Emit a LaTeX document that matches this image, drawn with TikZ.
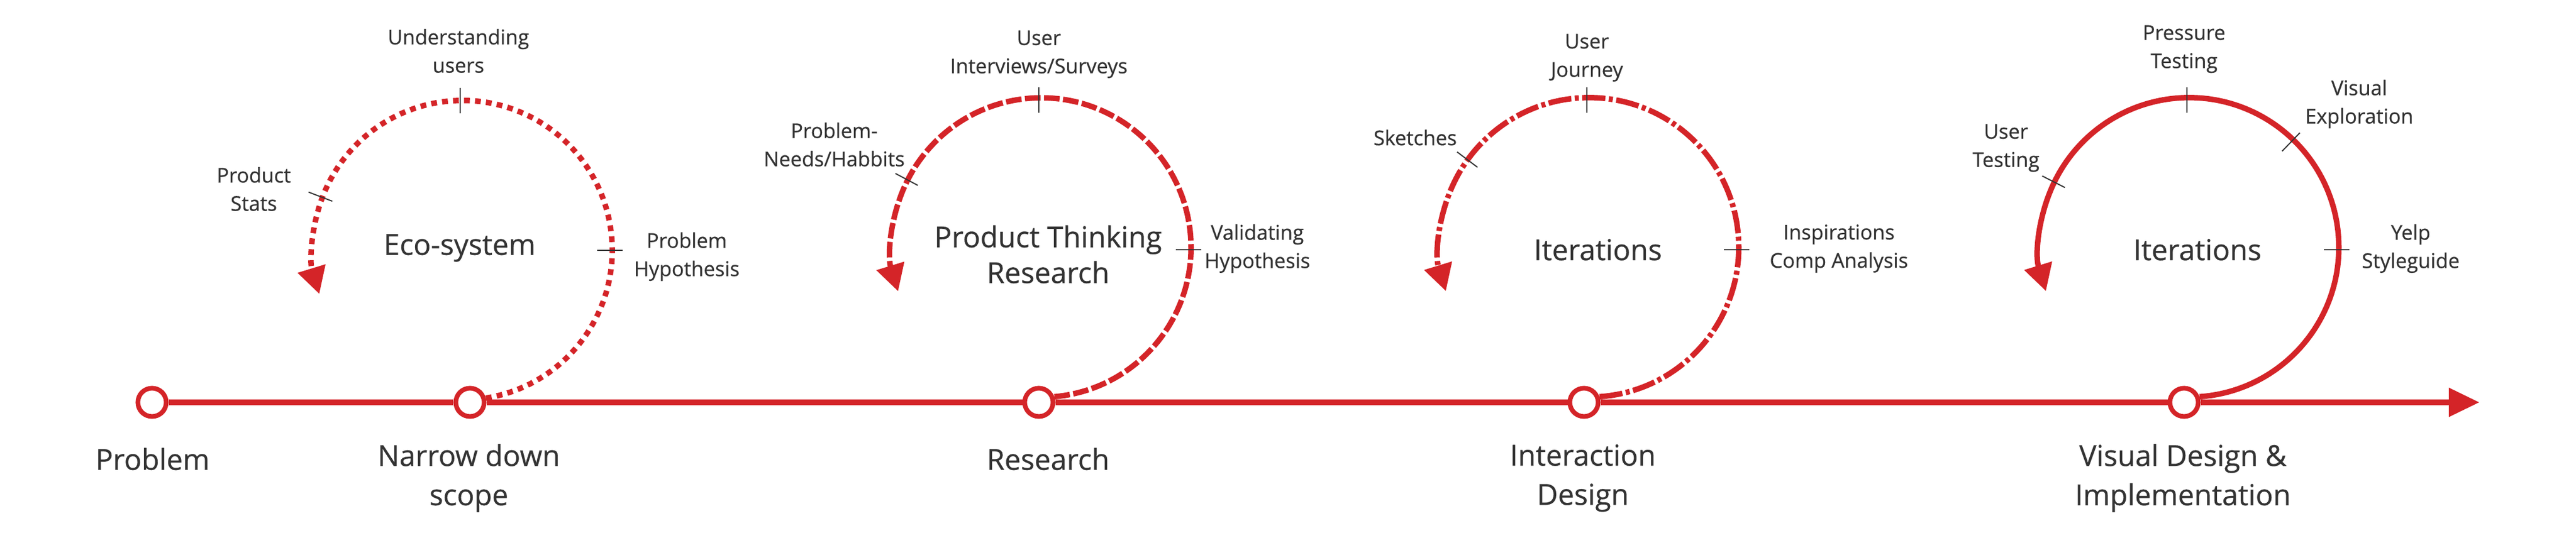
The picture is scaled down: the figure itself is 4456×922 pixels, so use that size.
\documentclass[tikz,border=0pt]{standalone}
\usepackage{fontspec}
\setmainfont{Open Sans}[FakeBold=0.5]
\usetikzlibrary{arrows.meta}
\definecolor{loopred}{HTML}{D42428}
\definecolor{textgray}{HTML}{333333}
\tikzset{
  station/.style={circle, draw=loopred, line width=0.08cm, fill=white,
    minimum size=0.49cm, inner sep=0pt},
  timeline/.style={loopred, line width=0.1cm},
  loopline/.style={loopred, line width=0.095cm,
    -{Triangle[length=0.46cm,width=0.48cm]}},
  dotloop/.style={loopline, dash pattern=on 0.1cm off 0.09cm},
  dashloop/.style={loopline, dash pattern=on 0.27cm off 0.06cm},
  dashdotloop/.style={loopline, dash pattern=on 0.4cm off 0.06cm on 0.07cm off 0.06cm},
  ticker/.style={textgray, line width=0.02cm},
  note/.style={text=textgray, align=center, font=\fontsize{10}{13.9}\selectfont},
  phase/.style={text=textgray, align=center, font=\fontsize{14.2}{17.6}\selectfont},
  stage/.style={text=textgray, align=center, font=\fontsize{14.2}{19.3}\selectfont},
}

\begin{document}
\begin{tikzpicture}[x=0.01cm, y=0.01cm]
\useasboundingbox (0,0) rectangle (4456,922);

% stations on the timeline
\node[station] (prob) at (263,226) {};
\node[station] (scope) at (813,226) {};
\node[station] (research) at (1797,226) {};
\node[station] (interact) at (2740,226) {};
\node[station] (visual) at (3778,226) {};
\coordinate (lineend) at (4289,226);

\draw[timeline] (prob) -- (scope) -- (research) -- (interact) -- (visual);
\draw[timeline, -{Triangle[length=0.53cm,width=0.48cm]}] (visual) -- (lineend);

\node[stage] (lprob) at (264,128) {Problem};
\node[stage] (lscope) at (811,95) {Narrow down\\scope};
\node[stage] (lresearch) at (1813,128) {Research};
\node[stage] (linteract) at (2738,95) {Interaction\\Design};
\node[stage] (lvisual) at (3776,95) {Visual Design \&\\Implementation};

% loops
\coordinate (ecoc) at (796,489);
\coordinate (thinkc) at (1797,490);
\coordinate (iterc) at (2745,490);
\coordinate (visc) at (3783,490);

\draw[dotloop] (scope.15) arc[start angle=-81, end angle=197, radius=259];
\draw[dashloop] (research.20) arc[start angle=-85, end angle=197, radius=259];
\draw[dashdotloop] (interact.20) arc[start angle=-86, end angle=197, radius=259];
\draw[loopline] (visual.20) arc[start angle=-86, end angle=197, radius=259];

\foreach \a in {90,159,0}
  \draw[ticker] (ecoc) ++(\a:237) -- ++(\a:44);
\foreach \a in {90,152,0}
  \draw[ticker] (thinkc) ++(\a:237) -- ++(\a:44);
\foreach \a in {90,143,0}
  \draw[ticker] (iterc) ++(\a:237) -- ++(\a:44);
\foreach \a in {90,153,46,0}
  \draw[ticker] (visc) ++(\a:237) -- ++(\a:44);

\node[phase] (ecosys) at (795,493) {Eco-system};
\node[note] (understand) at (793,834) {Understanding\\users};
\node[note] (stats) at (439,595) {Product\\Stats};
\node[note] (hypo) at (1188,478) {Problem\\Hypothesis};

\node[phase] (thinking) at (1813,482) {Product Thinking\\Research};
\node[note] (interviews) at (1797,828) {User\\Interviews/Surveys};
\node[note] (needs) at (1443,672) {Problem-\\Needs/Habbits};
\node[note] (validate) at (2175,492) {Validating\\Hypothesis};

\node[phase] (iter) at (2764,490) {Iterations};
\node[note] (journey) at (2745,822) {User\\Journey};
\node[note] (sketch) at (2448,684) {Sketches};
\node[note] (inspire) at (3181,492) {Inspirations\\Comp Analysis};

\node[phase] (iterv) at (3801,490) {Iterations};
\node[note] (pressure) at (3778,837) {Pressure\\Testing};
\node[note] (usertest) at (3470,666) {User\\Testing};
\node[note] (explore) at (4081,742) {Visual\\Exploration};
\node[note] (yelp) at (4170,492) {Yelp\\Styleguide};
\end{tikzpicture}
\end{document}
